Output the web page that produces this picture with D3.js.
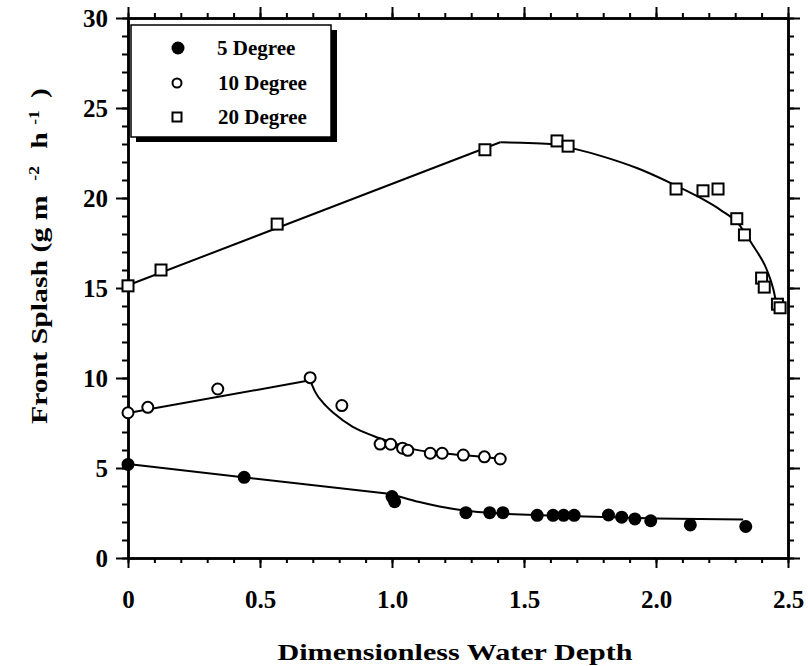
<!DOCTYPE html>
<html>
<head>
<meta charset="utf-8">
<script src="https://cdn.jsdelivr.net/npm/d3@7"></script>
<style>
  body { margin: 0; background: #fff; }
  svg { display: block; }
</style>
</head>
<body>
<script>
const x5 = [0, 0.44, 1.0, 1.01, 1.28, 1.37, 1.42, 1.55, 1.61, 1.65, 1.69, 1.82, 1.87, 1.92, 1.98, 2.13, 2.34];
const y5 = [5.2, 4.48, 3.41, 3.13, 2.52, 2.52, 2.52, 2.37, 2.37, 2.37, 2.37, 2.39, 2.27, 2.17, 2.07, 1.84, 1.75];

const x10 = [0, 0.075, 0.34, 0.69, 0.81, 0.955, 0.995, 1.04, 1.06, 1.145, 1.19, 1.27, 1.35, 1.41];
const y10 = [8.07, 8.37, 9.39, 10.02, 8.47, 6.33, 6.32, 6.1, 5.98, 5.82, 5.82, 5.72, 5.62, 5.5];

const x20 = [0, 0.125, 0.565, 1.352, 1.625, 1.667, 2.076, 2.178, 2.235, 2.306, 2.335, 2.40, 2.41, 2.46, 2.47];
const y20 = [15.12, 16.0, 18.55, 22.68, 23.17, 22.88, 20.5, 20.4, 20.5, 18.85, 17.95, 15.55, 15.05, 14.1, 13.9];

// fitted lines: straight part, then curved part
const fit5LineX = [0, 0.98];
const fit5LineY = [5.22, 3.58];
const fit5CurveX = [0.98, 1.03, 1.1, 1.18, 1.28, 1.4, 1.6, 2.0, 2.33];
const fit5CurveY = [3.58, 3.4, 3.12, 2.86, 2.63, 2.48, 2.36, 2.2, 2.14];

const fit10LineX = [0, 0.69];
const fit10LineY = [8.05, 9.87];
const fit10CurveX = [0.69, 0.71, 0.75, 0.78, 0.85, 0.93, 1.0, 1.08, 1.16, 1.23, 1.32, 1.41];
const fit10CurveY = [9.87, 9.2, 8.45, 8.04, 7.3, 6.78, 6.42, 6.05, 5.87, 5.77, 5.65, 5.5];

const fit20LineX = [0, 1.41];
const fit20LineY = [15.15, 23.1];
const fit20CurveX = [1.41, 1.49, 1.6, 1.7, 1.8, 1.93, 2.06, 2.16, 2.245, 2.31, 2.37, 2.42, 2.445, 2.46];
const fit20CurveY = [23.1, 23.07, 23.0, 22.7, 22.3, 21.65, 20.8, 20.07, 19.33, 18.6, 17.3, 16.0, 14.9, 13.8];

const xTicks = [0, 0.5, 1.0, 1.5, 2.0, 2.5];
const xTickLabels = ["0", "0.5", "1.0", "1.5", "2.0", "2.5"];
const yTicks = [0, 5, 10, 15, 20, 25, 30];
const yTickLabels = ["0", "5", "10", "15", "20", "25", "30"];
const legendLabels = ["5 Degree", "10 Degree", "20 Degree"];

const font = "'Liberation Serif', 'Times New Roman', serif";

const svg = d3.select("body").append("svg")
    .attr("width", 808)
    .attr("height", 666)
    .attr("xmlns", "http://www.w3.org/2000/svg");

const x = d3.scaleLinear().domain([0, 2.5]).range([128, 788]);
const y = d3.scaleLinear().domain([0, 30]).range([558, 18]);

const xMinor = d3.range(0, 2.501, 0.1);
const yMinor = d3.range(0, 30.01, 1);

function styleAxis(g) {
  g.select(".domain").attr("stroke-width", 2.5).attr("stroke", "#000");
  g.selectAll(".tick line").attr("stroke-width", 2).attr("stroke", "#000");
  g.selectAll("text")
    .attr("font-family", font)
    .attr("font-weight", "bold")
    .attr("font-size", 25)
    .attr("fill", "#000");
}

// minor ticks on all four sides
svg.append("g").attr("transform", "translate(0,558)")
  .call(d3.axisBottom(x).tickValues(xMinor).tickSize(5).tickSizeOuter(0).tickFormat(""))
  .call(styleAxis);
svg.append("g").attr("transform", "translate(0,18)")
  .call(d3.axisTop(x).tickValues(xMinor).tickSize(5).tickSizeOuter(0).tickFormat(""))
  .call(styleAxis);
svg.append("g").attr("transform", "translate(128,0)")
  .call(d3.axisLeft(y).tickValues(yMinor).tickSize(6).tickSizeOuter(0).tickFormat(""))
  .call(styleAxis);
svg.append("g").attr("transform", "translate(788,0)")
  .call(d3.axisRight(y).tickValues(yMinor).tickSize(6).tickSizeOuter(0).tickFormat(""))
  .call(styleAxis);

// major ticks + labels
svg.append("g").attr("transform", "translate(0,558)")
  .call(d3.axisBottom(x).tickValues(xTicks).tickSize(10).tickSizeOuter(0).tickPadding(22)
    .tickFormat((d, i) => xTickLabels[i]))
  .call(styleAxis);
svg.append("g").attr("transform", "translate(0,18)")
  .call(d3.axisTop(x).tickValues(xTicks).tickSize(11).tickSizeOuter(0).tickFormat(""))
  .call(styleAxis);
svg.append("g").attr("transform", "translate(128,0)")
  .call(d3.axisLeft(y).tickValues(yTicks).tickSize(12).tickSizeOuter(0).tickPadding(8)
    .tickFormat((d, i) => yTickLabels[i]))
  .call(styleAxis);
svg.append("g").attr("transform", "translate(788,0)")
  .call(d3.axisRight(y).tickValues(yTicks).tickSize(12).tickSizeOuter(0).tickFormat(""))
  .call(styleAxis);

// fitted lines
const straight = d3.line().x(d => x(d[0])).y(d => y(d[1]));
const curved = d3.line().x(d => x(d[0])).y(d => y(d[1])).curve(d3.curveMonotoneX);
const fits = [
  [fit5LineX, fit5LineY, straight], [fit5CurveX, fit5CurveY, curved],
  [fit10LineX, fit10LineY, straight], [fit10CurveX, fit10CurveY, curved],
  [fit20LineX, fit20LineY, straight], [fit20CurveX, fit20CurveY, curved]
];
fits.forEach(function(f) {
  svg.append("path")
    .datum(d3.zip(f[0], f[1]))
    .attr("d", f[2])
    .attr("fill", "none")
    .attr("stroke", "#000")
    .attr("stroke-width", 2);
});

// markers
svg.append("g").selectAll("circle")
  .data(d3.zip(x5, y5))
  .enter().append("circle")
    .attr("cx", d => x(d[0]))
    .attr("cy", d => y(d[1]))
    .attr("r", 6.5)
    .attr("fill", "#000");

svg.append("g").selectAll("circle")
  .data(d3.zip(x10, y10))
  .enter().append("circle")
    .attr("cx", d => x(d[0]))
    .attr("cy", d => y(d[1]))
    .attr("r", 5.5)
    .attr("fill", "#fff")
    .attr("stroke", "#000")
    .attr("stroke-width", 2);

svg.append("g").selectAll("rect")
  .data(d3.zip(x20, y20))
  .enter().append("rect")
    .attr("x", d => x(d[0]) - 5.5)
    .attr("y", d => y(d[1]) - 5.5)
    .attr("width", 11)
    .attr("height", 11)
    .attr("fill", "#fff")
    .attr("stroke", "#000")
    .attr("stroke-width", 2);

// legend with drop shadow
const leg = svg.append("g");
leg.append("rect").attr("x", 136).attr("y", 30).attr("width", 201).attr("height", 112).attr("fill", "#000");
leg.append("rect").attr("x", 131).attr("y", 25).attr("width", 200).attr("height", 112)
  .attr("fill", "#fff").attr("stroke", "#000").attr("stroke-width", 1.5);

const rowY = [48, 83, 117];
leg.append("circle").attr("cx", 178).attr("cy", rowY[0]).attr("r", 6.5).attr("fill", "#000");
leg.append("circle").attr("cx", 177).attr("cy", rowY[1]).attr("r", 4.5)
  .attr("fill", "#fff").attr("stroke", "#000").attr("stroke-width", 2);
leg.append("rect").attr("x", 172.5).attr("y", rowY[2] - 4.5).attr("width", 9).attr("height", 9)
  .attr("fill", "#fff").attr("stroke", "#000").attr("stroke-width", 2);

leg.selectAll("text.lab")
  .data(legendLabels)
  .enter().append("text")
    .attr("class", "lab")
    .attr("x", (d, i) => i === 0 ? 217 : 218)
    .attr("y", (d, i) => rowY[i] + 7)
    .attr("font-family", font)
    .attr("font-weight", "bold")
    .attr("font-size", 21)
    .text(d => d);

// axis titles
svg.append("text")
  .attr("x", 455)
  .attr("y", 660)
  .attr("text-anchor", "middle")
  .attr("font-family", font)
  .attr("font-weight", "bold")
  .attr("font-size", 24)
  .attr("textLength", 355)
  .attr("lengthAdjust", "spacingAndGlyphs")
  .text("Dimensionless Water Depth");

const yt = svg.append("text")
  .attr("transform", "translate(47,256) rotate(-90)")
  .attr("text-anchor", "middle")
  .attr("font-family", font)
  .attr("font-weight", "bold")
  .attr("font-size", 24)
  .attr("textLength", 336)
  .attr("lengthAdjust", "spacingAndGlyphs");
yt.append("tspan").text("Front Splash (g m ");
yt.append("tspan").attr("font-size", 14).attr("dx", 6).attr("baseline-shift", "60%").text("-2");
yt.append("tspan").attr("dx", 8).text(" h ");
yt.append("tspan").attr("font-size", 14).attr("baseline-shift", "60%").text("-1");
yt.append("tspan").attr("dx", 4).text(" )");
</script>
</body>
</html>
